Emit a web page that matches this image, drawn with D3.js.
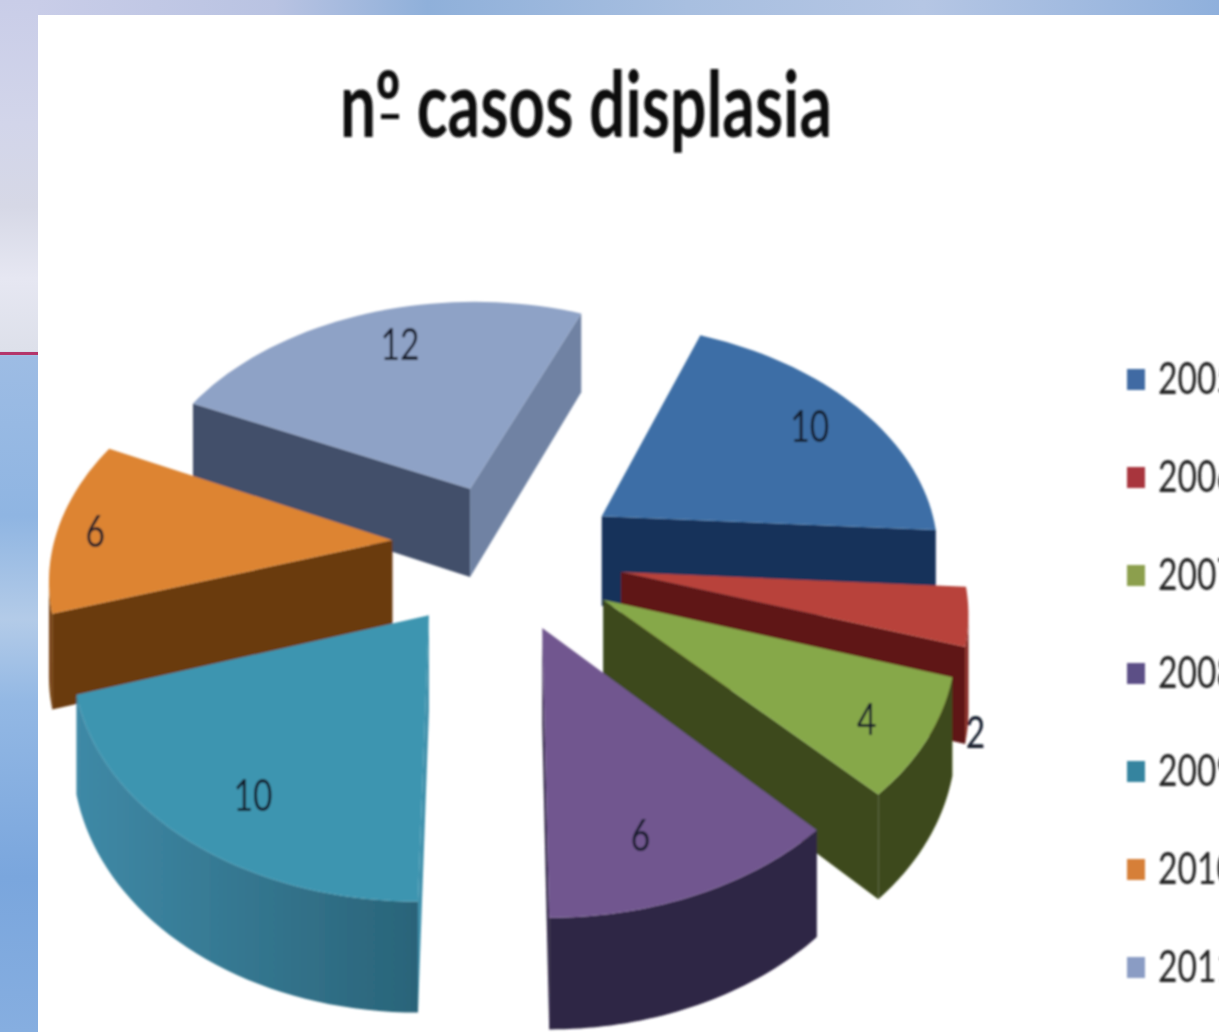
<!DOCTYPE html>
<html><head><meta charset="utf-8">
<script src="https://cdn.jsdelivr.net/npm/d3@7"></script>
<style>html,body{margin:0;padding:0;background:#fff;overflow:hidden}svg{display:block}</style>
</head><body><svg id="c" width="1219" height="1032"></svg>
<script>
const titleText = "nº casos displasia";
const categories = ["2005","2006","2007","2008","2009","2010","2011"];
const values = [10,2,4,6,10,6,12];
const topColors = ["#3c6ea6","#b8433a","#86a84a","#71568f","#3d95b0","#dd8433","#8ea2c6"];
const legendColors = ["#3f6aa3","#a8343c","#8c9f4e","#5c4f86","#35849f","#d67f37","#8a9cc4"];
const startFace = ["#16325a","#5e1414","#3c4a1c","#2e2545","#3f90ab","#6b3a10","#42506a"];
const endFace = ["#16325a","#5e1414","#3c4a1c","#2e2545","#2f7d98","#6b3a10","#6f82a3"];
const wallA = ["#244f80","#7a1d18","#3c4a1c","#2e2545","#2a6479","#5f340e","#5a6a85"];
const wallB = ["#2c5f96","#8c2a22","#3c4a1c","#2e2545","#3f89a6","#7a4514","#6f82a3"];

// layout of the exploded, tilted pie
const W=1219,H=1032, cx=505, cy=556, tilt=.675, persp=.0004, R=339, explode=110, depth=92;
const rotation=21.6*Math.PI/180;
const sliceShift=[[6,-1],[7,2],[3,3],[-5,0],[-9,-3],[-3,-11],[4,-1]];
const labelPos=[.74,1.0,.78,.68,.62,.86,.78];
const labelNudge=[[16,-7],[7,116],[15,14],[-3,35],[-33,48],[-10,4],[12,-4]];

const svg=d3.select("#c"), defs=svg.append("defs");
const bgV=defs.append("linearGradient").attr("id","bgV").attr("x1",0).attr("x2",0).attr("y1",0).attr("y2",1);
[[0,"#c9cde8"],[.12,"#d2d5ea"],[.2,"#d6d8e6"],[.27,"#e6e7f2"],[.34,"#dde0ea"],[.345,"#9dbce4"],[.5,"#8fb5e2"],[.6,"#b3cbe8"],[.68,"#93b8e4"],[.85,"#7aa6dd"],[1,"#86aee0"]]
 .forEach(s=>bgV.append("stop").attr("offset",s[0]).attr("stop-color",s[1]));
const bgH=defs.append("linearGradient").attr("id","bgH");
[[0,"#c9cde8"],[.2,"#b9c3e2"],[.33,"#8fb0da"],[.55,"#a8bfe0"],[.75,"#b5c6e4"],[1,"#8fb0dc"]]
 .forEach(s=>bgH.append("stop").attr("offset",s[0]).attr("stop-color",s[1]));
svg.append("rect").attr("width",38).attr("height",H).attr("fill","url(#bgV)");
svg.append("rect").attr("x",38).attr("width",W-38).attr("height",15).attr("fill","url(#bgH)");
svg.append("rect").attr("x",38).attr("y",15).attr("width",W-38).attr("height",H-15).attr("fill","#fff");
svg.append("rect").attr("x",0).attr("y",352).attr("width",38).attr("height",3).attr("fill","#b4356a");

defs.append("filter").attr("id","soft").append("feGaussianBlur").attr("stdDeviation",.8);
const g=svg.append("g").attr("filter","url(#soft)");

const pie=d3.pie().sort(null).startAngle(rotation).endAngle(rotation+2*Math.PI);
const arcs=pie(values);

function project(X,Y,Z,shift){
  const w=1/(1-persp*Y);
  return [cx+X*w+(shift?shift[0]:0), cy+(Y*tilt+Z)*w+(shift?shift[1]:0)];
}
const line=d3.line();
function area(p){return d3.polygonArea(p);}

function slicePoint(a,r,mid){
  return [explode*Math.sin(mid)+r*Math.sin(a), -explode*Math.cos(mid)-r*Math.cos(a)];
}
const order=[6,0,5,1,2,3,4];
order.forEach(i=>{
  const d=arcs[i], mid=(d.startAngle+d.endAngle)/2, s=sliceShift[i];
  const P=(a,r,z)=>{const q=slicePoint(a,r,mid);return project(q[0],q[1],z,s);};
  const angs=d3.range(0,41).map(t=>d.startAngle+(d.endAngle-d.startAngle)*t/40);
  const topArc=angs.map(a=>P(a,R,0)), botArc=angs.map(a=>P(a,R,depth));
  const apexT=P(0,0,0), apexB=P(0,0,depth);
  const gid="wall"+i;
  const xs=topArc.map(p=>p[0]);
  const gr=defs.append("linearGradient").attr("id",gid).attr("gradientUnits","userSpaceOnUse")
    .attr("x1",d3.min(xs)).attr("x2",d3.max(xs)).attr("y1",0).attr("y2",0);
  gr.append("stop").attr("offset",0).attr("stop-color",wallB[i]);
  gr.append("stop").attr("offset",1).attr("stop-color",wallA[i]);
  // radial faces (hidden ones are culled by winding)
  const f1=[apexT,topArc[0],botArc[0],apexB], f2=[topArc[40],apexT,apexB,botArc[40]];
  if(area(f1)>0) g.append("path").attr("d",line(f1)+"Z").attr("fill",startFace[i]);
  if(area(f2)>0) g.append("path").attr("d",line(f2)+"Z").attr("fill",endFace[i]);
  // curved outer wall: only the runs that face the viewer
  let run=[];
  const flush=()=>{ if(run.length>1){
      const poly=run.map(k=>topArc[k]).concat(run.slice().reverse().map(k=>botArc[k]));
      g.append("path").attr("d",line(poly)+"Z").attr("fill","url(#"+gid+")");
    } run=[]; };
  for(let k=0;k<40;k++){
    const q=[topArc[k],topArc[k+1],botArc[k+1],botArc[k]];
    if(area(q)>0){ if(!run.length)run.push(k); run.push(k+1);} else flush();
  }
  flush();
  // top face
  g.append("path").attr("d",line([apexT].concat(topArc))+"Z").attr("fill",topColors[i]);
});

const font="Lato, Carlito, sans-serif";
const numFill="#141a2c";
arcs.forEach((d,i)=>{
  const mid=(d.startAngle+d.endAngle)/2;
  const q=slicePoint(mid,R*labelPos[i],mid), p=project(q[0],q[1],0,sliceShift[i]);
  const t=String(values[i]);
  g.append("text").attr("x",p[0]+labelNudge[i][0]).attr("y",p[1]+labelNudge[i][1]+15)
    .attr("text-anchor","middle").attr("font-family",font).attr("font-size",44)
    .attr("fill",numFill).attr("textLength",t.length*19.5).attr("lengthAdjust","spacingAndGlyphs").text(t);
});

// legend
const yLegend=d3.scalePoint().domain(categories).range([379,967]);
categories.forEach((c,i)=>{
  g.append("rect").attr("x",1127).attr("y",yLegend(c)-10).attr("width",18).attr("height",21).attr("fill",legendColors[i]);
  g.append("text").attr("x",1158).attr("y",yLegend(c)+15).attr("font-family",font).attr("font-size",44)
    .attr("fill","#222").attr("textLength",78).attr("lengthAdjust","spacingAndGlyphs").text(c);
});
// title
g.append("text").attr("x",340).attr("y",137).attr("font-family",font).attr("font-weight",700).attr("font-size",92)
  .attr("fill","#111").attr("textLength",492).attr("lengthAdjust","spacingAndGlyphs").text(titleText);
g.append("rect").attr("x",381).attr("y",114).attr("width",18).attr("height",5).attr("fill","#111");
</script></body></html>
